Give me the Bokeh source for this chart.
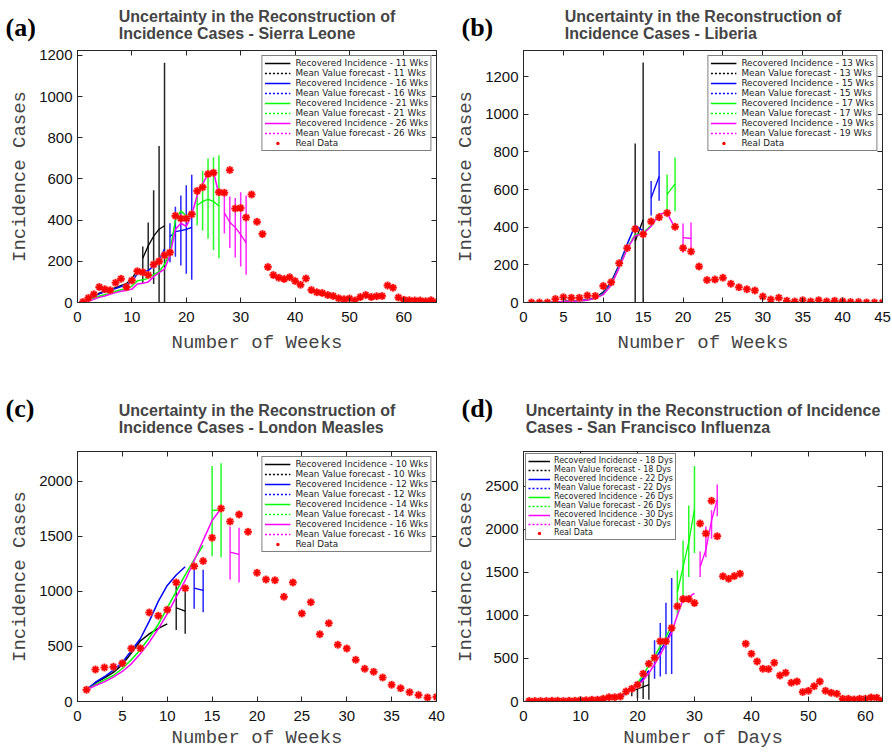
from bokeh.plotting import figure
from bokeh.models import Range1d, LinearAxis, FixedTicker, Legend, LegendItem, Title
from bokeh.layouts import gridplot
from bokeh.embed import file_html
from bokeh.resources import INLINE

# ---------------- data: (a) Sierra Leone (weeks) ----------------
sl_real = [3, 22, 40, 75, 64, 59, 96, 115, 75, 107, 152, 147, 133, 184, 200, 229, 243, 421, 408, 408,
           429, 542, 560, 624, 630, 536, 533, 643, 456, 459, 413, 525, 392, 333, 173, 134, 120, 114, 123, 104,
           86, 117, 61, 50, 46, 37, 32, 21, 16, 19, 10, 27, 37, 27, 30, 32, 83, 72, 24, 13,
           11, 10, 10, 6, 11, 3]
sl_horizons = [11, 16, 21, 26]
sl_rec = [
    [3, 12, 30, 45, 55, 63, 72, 82, 92, 115, 158],
    [3, 12, 28, 42, 52, 60, 68, 78, 85, 100, 140, 148, 155, 178, 205, 260],
    [3, 8, 20, 30, 38, 45, 55, 62, 65, 80, 105, 110, 118, 135, 150, 185, 245, 400, 445, 420, 440],
    [3, 6, 15, 25, 32, 40, 48, 55, 58, 65, 90, 93, 100, 125, 145, 162, 230, 355, 385, 370, 425, 520, 575, 625, 635, 525],
]
sl_fc = [[215, 275, 322, 356, 373], [320, 344, 349, 355, 365], [472, 491, 501, 491, 469], [435, 390, 365, 330, 290]]
sl_lo = [[95, 130, 90, 0, 0], [195, 222, 180, 140, 110], [375, 350, 310, 255, 215], [335, 265, 218, 175, 135]]
sl_hi = [[272, 388, 545, 760, 1165], [385, 465, 520, 570, 620], [545, 640, 700, 705, 715], [520, 515, 508, 535, 520]]

# ---------------- data: (b) Liberia (weeks) ----------------
lb_real = [0, 0, 0, 18, 28, 25, 25, 37, 35, 88, 108, 209, 289, 391, 363, 430, 453, 476, 402, 289,
           271, 191, 119, 122, 131, 99, 81, 71, 64, 32, 16, 25, 9, 5, 12, 5, 12, 5, 9, 7,
           2, 2, 0, 0, 0]
lb_horizons = [13, 15, 17, 19]
lb_rec = [
    [0, 0, 1, 3, 5, 8, 10, 15, 25, 55, 110, 200, 300],
    [0, 0, 1, 3, 5, 8, 10, 15, 25, 50, 105, 200, 310, 410, 380],
    [0, 0, 1, 2, 4, 6, 8, 12, 22, 45, 95, 190, 290, 360, 370, 410, 470],
    [0, 0, 1, 2, 4, 6, 8, 12, 22, 42, 92, 185, 285, 355, 365, 405, 470, 475, 395],
]
lb_fc = [[325, 440], [555, 670], [575, 630], [345, 340]]
lb_lo = [[0, 0], [462, 540], [480, 485], [265, 258]]
lb_hi = [[845, 1275], [645, 805], [680, 770], [420, 425]]

# ---------------- data: (c) London Measles (weeks) ----------------
lm_real = [106, 291, 309, 315, 348, 482, 485, 809, 779, 833, 1082, 1030, 1230, 1276, 1488, 1754, 1636, 1700, 1542, 1170,
           1109, 1103, 951, 1082, 800, 903, 612, 712, 515, 482, 379, 297, 270, 218, 152, 121, 85, 58, 36, 42]
lm_horizons = [10, 12, 14, 16]
lm_rec = [
    [106, 170, 215, 265, 335, 440, 550, 615, 665, 706],
    [106, 175, 225, 285, 357, 462, 570, 730, 910, 1055, 1150, 1225],
    [106, 152, 197, 236, 300, 380, 470, 580, 700, 850, 1000, 1150, 1290, 1418],
    [106, 145, 178, 221, 273, 342, 433, 539, 661, 797, 948, 1100, 1282, 1464, 1645, 1754],
]
lm_fc = [[852, 821], [1030, 1009], [1736, 1742], [1358, 1336]]
lm_lo = [[650, 615], [843, 812], [1320, 1310], [1109, 1082]]
lm_hi = [[1060, 1040], [1215, 1197], [2140, 2165], [1591, 1579]]

# ---------------- data: (d) San Francisco Influenza (days) ----------------
sf_real = [5, 5, 5, 5, 10, 10, 5, 10, 10, 15, 15, 20, 20, 31, 50, 50, 58, 116, 147, 194,
           322, 438, 508, 698, 698, 853, 1105, 1190, 1190, 1143, 2066, 1950, 2330, 1919, 1454, 1426, 1457, 1484, 671, 554,
           465, 380, 376, 450, 302, 333, 217, 233, 109, 124, 178, 233, 124, 101, 89, 31, 31, 23, 31, 31,
           47, 43, 12]
sf_horizons = [18, 22, 26, 30]
sf_rec = [
    [2, 2, 2, 3, 3, 4, 4, 5, 6, 8, 10, 12, 15, 20, 28, 40, 60, 90],
    [2, 2, 2, 3, 3, 4, 4, 5, 6, 8, 10, 12, 15, 20, 28, 40, 60, 95, 140, 195, 270, 360],
    [2, 2, 2, 3, 3, 4, 4, 5, 6, 8, 10, 12, 15, 22, 32, 45, 70, 110, 155, 215, 305, 420, 525, 640, 750, 880],
    [2, 2, 2, 3, 3, 4, 4, 5, 6, 8, 10, 12, 15, 20, 30, 42, 65, 100, 140, 185, 245, 330, 430, 540, 670, 800,
     1000, 1185, 1215, 1255],
]
sf_fc = [[120, 145, 170, 195], [480, 590, 700, 830], [1270, 1560, 1850, 2230], [1565, 1760, 2100, 2340]]
sf_lo = [[60, 35, 30, 20], [265, 290, 315, 320], [1000, 1210, 1445, 1725], [1445, 1675, 1890, 2150]]
sf_hi = [[165, 205, 265, 340], [710, 910, 1145, 1435], [1525, 1870, 2275, 2735], [1740, 2030, 2220, 2520]]

COLORS = ["#000000", "#0000ff", "#00ff00", "#ff00ff"]
AXC = "#262626"


def panel(letter, title, real, horizons, rec, fc, lo, hi, unit, xlabel, xmax, ymax, xticks, yticks,
          top_row, left_col, legend_loc, legend_font, legend_glyph_w, legend_standoff):
    p = figure(width=446, height=376, output_backend="svg", toolbar_location=None, tools="",
               x_range=Range1d(0, xmax), y_range=Range1d(0, ymax),
               min_border_left=77, min_border_right=10,
               min_border_top=50 if top_row else 75, min_border_bottom=74 if top_row else 51)
    p.grid.visible = False
    p.outline_line_color = AXC
    p.outline_line_width = 1
    p.background_fill_color = "white"

    p.title.text = title
    p.title.align = "center"
    p.title.text_font = "Liberation Sans"
    p.title.text_font_style = "bold"
    p.title.text_font_size = "16px"
    p.title.text_line_height = 1.0
    p.title.standoff = 7 if top_row else 13

    for ax in (p.xaxis[0], p.yaxis[0]):
        ax.major_tick_in = 5
        ax.major_tick_out = 0
        ax.minor_tick_line_color = None
        ax.axis_line_color = AXC
        ax.major_tick_line_color = AXC
        ax.major_label_text_font = "Liberation Sans"
        ax.major_label_text_font_size = "15px"
        ax.major_label_text_color = "#111111"
        ax.axis_label_text_font = "Liberation Mono"
        ax.axis_label_text_font_size = "19px"
        ax.axis_label_text_font_style = "normal"
        ax.axis_label_text_color = "#444444"
    p.xaxis[0].ticker = FixedTicker(ticks=xticks)
    p.yaxis[0].ticker = FixedTicker(ticks=yticks)
    p.xaxis[0].axis_label = xlabel
    p.yaxis[0].axis_label = "Incidence Cases"
    p.xaxis[0].major_label_standoff = 9
    p.xaxis[0].axis_label_standoff = 7 if top_row else 3
    p.yaxis[0].major_label_standoff = 5
    p.yaxis[0].axis_label_standoff = 5

    # tick marks on the top and right edges (box style), without labels
    for side, tk in (("above", xticks), ("right", yticks)):
        ax = LinearAxis(ticker=FixedTicker(ticks=tk), major_tick_in=5, major_tick_out=0,
                        minor_tick_line_color=None, axis_line_color=AXC, major_tick_line_color=AXC,
                        major_label_text_font_size="0px", major_label_text_color=None,
                        major_label_standoff=0)
        p.add_layout(ax, side)

    # panel letter: a title with (almost) zero layout height, shifted left of the frame
    fs = 26
    D = 20 if top_row else 36
    h_est = 2 * D - 4 + 1.1 * fs
    f = (h_est - 1.15 * fs) / fs
    p.add_layout(Title(text=letter + "\n\u00a0", align="left", offset=-72 if left_col else -62,
                       vertical_align="top", standoff=-h_est, text_font="Liberation Serif",
                       text_font_style="bold", text_font_size=f"{fs}px", text_line_height=f,
                       text_color="#000000"), "above")

    items = []
    for k, h in enumerate(horizons):
        c = COLORS[k]
        xs = list(range(1, h + 1))
        r_rec = p.line(xs, rec[k], line_color=c, line_width=1.5)
        nf = len(fc[k])
        xf = list(range(h + 1, h + 1 + nf))
        p.line(xf, fc[k], line_color=c, line_width=1.3)
        p.segment(x0=xf, y0=lo[k], x1=xf, y1=hi[k], line_color=c, line_width=1.5, line_alpha=0.85)
        # legend sample for the dotted "mean value forecast" style (draws nothing in the plot)
        r_dot = p.line(xf, [float("nan")] * nf, line_color=c, line_width=1.6, line_dash="2 2")
        items.append(LegendItem(label=f"Recovered Incidence - {h} {unit}", renderers=[r_rec]))
        items.append(LegendItem(label=f"Mean Value forecast - {h} {unit}", renderers=[r_dot]))

    xr = list(range(1, len(real) + 1))
    r_halo = p.scatter(xr, real, marker="circle", size=8.5, fill_color="#ff8080", fill_alpha=0.55,
                       line_color=None)
    r_star = p.scatter(xr, real, marker="asterisk", size=7.5, line_color="#ff0000", line_width=1.7)
    items.append(LegendItem(label="Real Data", renderers=[r_halo, r_star]))

    leg = Legend(items=items, location=legend_loc, margin=5 if legend_loc == "top_right" else 2,
                 padding=2, spacing=0, label_height=8, glyph_height=8,
                 glyph_width=legend_glyph_w, label_standoff=legend_standoff,
                 label_text_font="DejaVu Sans", label_text_font_size=legend_font,
                 label_text_color="#222222",
                 border_line_color="#000000", border_line_width=1, background_fill_alpha=1)
    p.add_layout(leg)
    return p


pa = panel("(a)", "Uncertainty in the Reconstruction of\nIncidence Cases - Sierra Leone",
           sl_real, sl_horizons, sl_rec, sl_fc, sl_lo, sl_hi, "Wks", "Number of Weeks",
           66, 1224, [0, 10, 20, 30, 40, 50, 60], [0, 200, 400, 600, 800, 1000, 1200],
           True, True, "top_right", "8.8px", 26, 5)
pb = panel("(b)", "Uncertainty in the Reconstruction of\nIncidence Cases - Liberia",
           lb_real, lb_horizons, lb_rec, lb_fc, lb_lo, lb_hi, "Wks", "Number of Weeks",
           45, 1339, [0, 5, 10, 15, 20, 25, 30, 35, 40, 45], [0, 200, 400, 600, 800, 1000, 1200],
           True, False, "top_right", "8.8px", 26, 5)
pc = panel("(c)", "Uncertainty in the Reconstruction of\nIncidence Cases - London Measles",
           lm_real, lm_horizons, lm_rec, lm_fc, lm_lo, lm_hi, "Wks", "Number of Weeks",
           40, 2272, [0, 5, 10, 15, 20, 25, 30, 35, 40], [0, 500, 1000, 1500, 2000],
           False, True, "top_right", "8.8px", 26, 5)
pd_ = panel("(d)", "Uncertainty in the Reconstruction of Incidence\nCases - San Francisco Influenza",
            sf_real, sf_horizons, sf_rec, sf_fc, sf_lo, sf_hi, "Dys", "Number of Days",
            63, 2902, [0, 10, 20, 30, 40, 50, 60], [0, 500, 1000, 1500, 2000, 2500],
            False, False, "top_left", "8px", 22, 4)

grid = gridplot([[pa, pb], [pc, pd_]], toolbar_location=None)
open("out.html", "w").write(file_html(grid, INLINE))
